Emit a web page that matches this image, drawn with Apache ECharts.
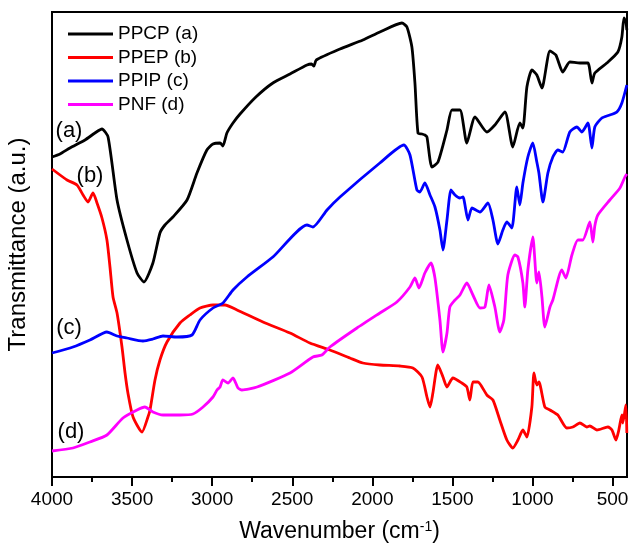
<!DOCTYPE html>
<html>
<head>
<meta charset="utf-8">
<script src="https://cdn.jsdelivr.net/npm/echarts@6/dist/echarts.min.js"></script>
<style>
  html, body { margin: 0; padding: 0; background: #fff; }
  #chart { width: 630px; height: 547px; }
</style>
</head>
<body>
<div id="chart"></div>
<script>
// FTIR spectra (wavenumber in cm-1, transmittance in a.u.)
const majorTicks = [500, 1000, 1500, 2000, 2500, 3000, 3500, 4000];
const minorTicks = [750, 1250, 1750, 2250, 2750, 3250, 3750];

const ppcpWn = [4000, 3950, 3888, 3794, 3732, 3688, 3650, 3594, 3532, 3469, 3426, 3370, 3326, 3295, 3245, 3157, 3095, 3033, 2995, 2951, 2933, 2908, 2870, 2826, 2727, 2621, 2514, 2408, 2380, 2365, 2350, 2202, 2059, 1953, 1815, 1784, 1753, 1734, 1715, 1690, 1672, 1659, 1628, 1590, 1534, 1503, 1453, 1410, 1359, 1285, 1235, 1172, 1123, 1079, 1060, 1035, 1004, 973, 941, 891, 854, 811, 767, 704, 654, 629, 611, 536, 467, 442, 429, 417, 411];
const ppcpT = [64.0, 64.6, 65.8, 67.4, 68.8, 69.6, 68.0, 55.4, 47.4, 40.8, 39.0, 42.8, 48.8, 50.4, 52.0, 55.4, 60.8, 65.4, 66.6, 66.8, 66.2, 68.8, 70.8, 72.6, 76.0, 78.8, 80.6, 82.4, 82.6, 82.2, 83.4, 85.6, 87.4, 89.0, 90.8, 90.0, 86.0, 78.8, 68.8, 68.6, 68.4, 68.0, 62.0, 63.0, 69.4, 73.4, 73.4, 66.8, 72.0, 69.0, 70.4, 73.0, 66.0, 70.8, 69.8, 78.0, 81.4, 80.4, 77.8, 85.2, 84.4, 81.0, 83.0, 82.8, 82.8, 78.8, 80.8, 82.8, 85.0, 88.0, 91.8, 91.0, 89.4];

const ppepWn = [4000, 3906, 3844, 3806, 3775, 3744, 3719, 3688, 3657, 3638, 3619, 3594, 3563, 3544, 3526, 3494, 3438, 3401, 3388, 3357, 3326, 3282, 3201, 3139, 3076, 2995, 2920, 2845, 2683, 2514, 2390, 2265, 2140, 2059, 1953, 1828, 1747, 1690, 1659, 1640, 1622, 1591, 1559, 1534, 1497, 1441, 1410, 1391, 1372, 1341, 1285, 1247, 1204, 1160, 1123, 1091, 1060, 1035, 1004, 991, 973, 960, 923, 891, 842, 786, 748, 704, 661, 642, 598, 529, 504, 479, 461, 442, 436, 417, 411];
const ppepT = [61.6, 59.4, 58.4, 56.4, 55.0, 56.8, 54.8, 51.8, 47.4, 42.0, 36.0, 32.8, 26.0, 20.8, 16.8, 12.0, 9.0, 12.0, 13.4, 19.4, 23.4, 27.0, 30.8, 32.4, 33.8, 34.4, 34.4, 33.4, 31.0, 28.8, 26.8, 25.4, 23.8, 22.8, 22.4, 22.2, 21.8, 20.0, 16.0, 14.0, 16.8, 22.4, 20.0, 18.0, 19.8, 18.8, 18.0, 15.4, 19.0, 19.0, 16.4, 15.4, 11.4, 7.4, 5.8, 7.4, 9.4, 8.0, 14.0, 20.8, 18.4, 19.0, 14.0, 13.4, 12.4, 9.8, 10.0, 10.8, 10.0, 10.2, 9.4, 10.0, 9.4, 7.4, 9.4, 12.4, 10.8, 14.4, 8.8];

const ppipWn = [4000, 3869, 3763, 3657, 3594, 3532, 3432, 3370, 3307, 3220, 3126, 3076, 2995, 2933, 2870, 2783, 2621, 2408, 2371, 2283, 2202, 1953, 1803, 1765, 1722, 1703, 1672, 1640, 1609, 1578, 1559, 1534, 1509, 1484, 1453, 1434, 1403, 1378, 1328, 1278, 1247, 1216, 1185, 1160, 1129, 1098, 1079, 1060, 1029, 998, 973, 960, 935, 904, 873, 842, 811, 767, 723, 692, 654, 629, 611, 567, 517, 473, 442, 411];
const ppipT = [24.8, 26.0, 27.4, 29.0, 28.2, 27.8, 27.2, 27.6, 28.2, 28.0, 28.4, 31.4, 33.8, 34.8, 37.4, 40.0, 44.0, 50.4, 50.0, 53.4, 56.0, 62.8, 66.4, 64.4, 57.4, 57.0, 58.8, 56.4, 54.0, 49.4, 45.4, 51.4, 57.4, 56.4, 55.8, 56.0, 51.4, 53.8, 53.0, 54.8, 51.4, 46.6, 49.4, 51.0, 49.8, 58.0, 54.4, 58.8, 64.0, 66.8, 63.0, 60.8, 55.0, 60.8, 64.0, 65.4, 65.0, 69.0, 70.0, 69.0, 70.8, 65.8, 70.0, 71.8, 72.4, 73.0, 74.8, 78.4];

const pnfWn = [4000, 3869, 3763, 3657, 3557, 3469, 3420, 3370, 3307, 3201, 3120, 3057, 2995, 2970, 2951, 2933, 2901, 2870, 2839, 2814, 2720, 2514, 2371, 2315, 2265, 2096, 1953, 1847, 1765, 1734, 1709, 1672, 1634, 1609, 1578, 1559, 1534, 1516, 1484, 1453, 1410, 1372, 1328, 1297, 1272, 1235, 1204, 1179, 1154, 1110, 1091, 1060, 1048, 1029, 998, 973, 960, 941, 923, 891, 873, 817, 792, 754, 717, 686, 642, 623, 611, 592, 517, 454, 423, 411];
const pnfT = [5.2, 5.8, 7.0, 8.4, 11.8, 13.4, 14.0, 13.0, 12.4, 12.4, 12.6, 14.0, 16.0, 17.4, 18.0, 19.4, 18.8, 19.8, 17.8, 17.4, 18.0, 20.8, 24.0, 24.4, 26.0, 29.8, 32.8, 35.0, 38.0, 39.8, 37.8, 40.8, 42.8, 39.8, 31.4, 25.0, 28.8, 34.0, 35.4, 36.4, 38.8, 36.4, 33.8, 34.0, 38.4, 34.0, 29.0, 31.4, 40.4, 44.4, 44.0, 38.8, 34.0, 41.4, 48.0, 38.8, 41.0, 36.0, 30.0, 34.0, 35.4, 41.4, 39.8, 44.4, 47.4, 47.4, 51.0, 47.0, 50.2, 52.4, 55.4, 57.8, 60.0, 60.6];

const curveNames = ['PPCP (a)', 'PPEP (b)', 'PPIP (c)', 'PNF (d)'];
const curveColors = ['#000000', '#ff0000', '#0000ff', '#ff00ff'];
const curveTags = ['(a)', '(b)', '(c)', '(d)'];

const FONT = '"Liberation Sans", Arial, sans-serif';

function pairs(wn, t) {
    return wn.map((w, i) => [w, t[i]]);
}

const curves = [
    pairs(ppcpWn, ppcpT),
    pairs(ppepWn, ppepT),
    pairs(ppipWn, ppipT),
    pairs(pnfWn, pnfT)
];

const chart = echarts.init(document.getElementById('chart'));

let option = {
    animation: false,
    backgroundColor: '#fff',
    grid: {
        left: 52,
        right: 3,
        top: 12,
        bottom: 70,
        containLabel: false,
        outerBoundsMode: 'none',
        show: true,
        borderColor: '#000',
        borderWidth: 2
    },
    legend: {
        orient: 'vertical',
        left: 63,
        top: 19,
        icon: 'rect',
        itemWidth: 45,
        itemHeight: 3,
        itemGap: 3.5,
        textStyle: {
            fontFamily: FONT,
            fontSize: 19,
            lineHeight: 20,
            color: '#000'
        },
        data: curveNames
    },
    xAxis: [
        {
            type: 'value',
            min: 410,
            max: 4000,
            inverse: true,
            position: 'bottom',
            name: 'Wavenumber (cm{sup|-1})',
            nameLocation: 'middle',
            nameGap: 43,
            nameTextStyle: {
                fontFamily: FONT,
                fontSize: 23,
                color: '#000',
                rich: {
                    sup: {
                        fontFamily: FONT,
                        fontSize: 14,
                        color: '#000',
                        verticalAlign: 'top',
                        lineHeight: 14
                    }
                }
            },
            axisLine: { onZero: false, lineStyle: { color: '#000', width: 2 } },
            axisTick: {
                customValues: majorTicks,
                length: 9,
                lineStyle: { color: '#000', width: 2 }
            },
            axisLabel: {
                customValues: majorTicks,
                formatter: v => String(v),
                margin: 13,
                fontFamily: FONT,
                fontSize: 19,
                color: '#000'
            },
            splitLine: { show: false }
        },
        {
            type: 'value',
            min: 410,
            max: 4000,
            inverse: true,
            position: 'bottom',
            axisLine: { show: false, onZero: false },
            axisTick: {
                customValues: minorTicks,
                length: 5,
                lineStyle: { color: '#000', width: 2 }
            },
            axisLabel: { show: false },
            splitLine: { show: false }
        }
    ],
    yAxis: {
        type: 'value',
        min: 0,
        max: 93,
        name: 'Transmittance (a.u.)',
        nameLocation: 'middle',
        nameRotate: 90,
        nameGap: 22,
        nameTextStyle: {
            fontFamily: FONT,
            fontSize: 24,
            color: '#000'
        },
        axisLine: { show: true, lineStyle: { color: '#000', width: 2 } },
        axisTick: { show: false },
        axisLabel: { show: false },
        splitLine: { show: false }
    },
    graphic: [
        { type: 'text', x: 69, y: 131, style: { text: curveTags[0], align: 'center', verticalAlign: 'middle', fontSize: 22, fontFamily: FONT, fill: '#000' } },
        { type: 'text', x: 90, y: 176, style: { text: curveTags[1], align: 'center', verticalAlign: 'middle', fontSize: 22, fontFamily: FONT, fill: '#000' } },
        { type: 'text', x: 69, y: 328, style: { text: curveTags[2], align: 'center', verticalAlign: 'middle', fontSize: 22, fontFamily: FONT, fill: '#000' } },
        { type: 'text', x: 71, y: 432, style: { text: curveTags[3], align: 'center', verticalAlign: 'middle', fontSize: 22, fontFamily: FONT, fill: '#000' } }
    ],
    series: curves.map((d, i) => ({
        name: curveNames[i],
        type: 'line',
        data: d,
        showSymbol: false,
        symbol: 'none',
        smooth: 0.2,
        color: curveColors[i],
        lineStyle: { color: curveColors[i], width: 2.8 }
    }))
};

chart.setOption(option);
window.onresize = chart.resize;
</script>
</body>
</html>
